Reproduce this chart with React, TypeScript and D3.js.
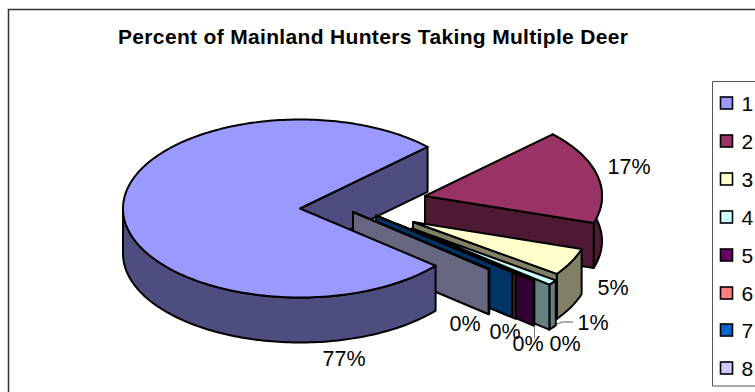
import React from "react";
import * as d3 from "d3";

// Share of hunters per number of deer taken
const categories = ["1", "2", "3", "4", "5", "6", "7", "8"];
const shares = [76.7, 17.1, 5.0, 0.95, 0.1, 0.02, 0.03, 0.1];
const shareLabels = ["77%", "17%", "5%", "1%", "0%", "0%", "0%", "0%"];
const topColors = ["#9999FF", "#993366", "#FFFFCC", "#CCFFFF", "#660066", "#FF8080", "#0066CC", "#CCCCFF"];
const wallColors = ["#4D4D80", "#4D1933", "#808066", "#668080", "#330033", "#804040", "#003366", "#666680"];

// Layout of the tilted pie
const W = 755;
const H = 392;
const CX = 300;
const CY = 208.5;
const RX = 177;
const RY = 89;
const DEPTH = 45;
const FIRST_ANGLE = (130 * Math.PI) / 180;

// How far each slice is pulled out of the pie, in pixels
const pullX = [0, 125, 113, 112, 97, 79, 76, 53];
const pullY = [0, -12.5, 13.5, 20, 15.5, 8.5, 7, 3.5];

const labelX = [344, 629, 613, 593, 465, 505, 528, 565];
const labelY = [366, 174, 295, 329.5, 331, 338.5, 350.5, 350.5];
const legendRowY = [103, 141, 179, 217, 255, 293, 330, 368];

const xScale = d3.scaleLinear().domain([-1, 1]).range([-RX, RX]);
const yScale = d3.scaleLinear().domain([-1, 1]).range([RY, -RY]);

type Pt = [number, number];

// Clockwise angle from twelve o'clock, projected onto the tilted disc
const rimPoint = (a: number, i: number, drop = 0): Pt => [
  CX + pullX[i] + xScale(Math.sin(a)),
  CY + pullY[i] + yScale(Math.cos(a)) + drop,
];
const apex = (i: number, drop = 0): Pt => [CX + pullX[i], CY + pullY[i] + drop];

const arcPoints = (a0: number, a1: number, i: number, drop = 0): Pt[] => {
  const n = Math.max(2, Math.ceil(Math.abs(a1 - a0) / 0.02));
  return d3.range(n + 1).map((k) => rimPoint(a0 + ((a1 - a0) * k) / n, i, drop));
};

const closedPath = d3.line<Pt>().curve(d3.curveLinearClosed);

const arcs = d3
  .pie<number>()
  .sort(null)
  .startAngle(FIRST_ANGLE)
  .endAngle(FIRST_ANGLE + 2 * Math.PI)(shares);

const HALF = Math.PI / 2;
const stroke = { stroke: "#000", strokeWidth: 2, strokeLinejoin: "round" as const };

function topFace(i: number) {
  const { startAngle: a0, endAngle: a1 } = arcs[i];
  return <path d={closedPath([apex(i), ...arcPoints(a0, a1, i)])!} fill={topColors[i]} {...stroke} />;
}

// The outer wall is visible only where the rim faces the viewer
function rimWall(i: number, from: number, to: number) {
  const top = arcPoints(from, to, i);
  const bottom = arcPoints(to, from, i, DEPTH);
  return <path d={closedPath([...top, ...bottom])!} fill={wallColors[i]} {...stroke} />;
}

function cutWall(i: number, angle: number) {
  const pts: Pt[] = [apex(i), rimPoint(angle, i), rimPoint(angle, i, DEPTH), apex(i, DEPTH)];
  return <path d={closedPath(pts)!} fill={wallColors[i]} {...stroke} />;
}

function PulledSlice({ i }: { i: number }) {
  const { startAngle: a0, endAngle: a1 } = arcs[i];
  const rimFrom = Math.max(a0, HALF);
  return (
    <g>
      {a1 > rimFrom ? rimWall(i, rimFrom, a1) : null}
      {cutWall(i, a1)}
      {topFace(i)}
    </g>
  );
}

export default function App() {
  const main = arcs[0];
  return (
    <svg
      width={W}
      height={H}
      viewBox={`0 0 ${W} ${H}`}
      style={{ position: "fixed", left: 0, top: 0, background: "#fff" }}
      fontFamily="'Liberation Sans', Arial, sans-serif"
    >
      {/* Chart frame, running off the right and bottom of the page */}
      <path d={`M8.5 ${H}V9.5H${W}`} fill="none" stroke="#333" strokeWidth={1.5} />
      <text x={373} y={44} textAnchor="middle" fontSize={21} fontWeight="bold" textLength={510} lengthAdjust="spacing">
        Percent of Mainland Hunters Taking Multiple Deer
      </text>

      {/* Inner cut of the large slice sits behind the pulled slices */}
      {cutWall(0, main.endAngle)}
      {d3.range(1, categories.length).map((i) => (
        <PulledSlice key={i} i={i} />
      ))}
      {rimWall(0, main.startAngle, Math.PI * 1.5)}
      {topFace(0)}

      {/* Leader lines for the two crowded labels */}
      <path d="M555 325L562 322H573" fill="none" stroke="#333" strokeWidth={0.8} />
      <path d="M534.5 325V338" fill="none" stroke="#555" strokeWidth={0.8} />

      {shareLabels.map((t, i) => (
        <text key={i} x={labelX[i]} y={labelY[i]} textAnchor="middle" fontSize={21.5}>
          {t}
        </text>
      ))}

      {/* Legend */}
      <path d={`M${W} 81.5H712.5V386H${W}`} fill="#fff" stroke="#555" strokeWidth={1} />
      {categories.map((c, i) => (
        <g key={c}>
          <rect x={720.5} y={legendRowY[i] - 6} width={12} height={12} fill={topColors[i]} stroke="#000" strokeWidth={1.6} />
          <text x={741.5} y={legendRowY[i] + 7.5} fontSize={21}>
            {c}
          </text>
        </g>
      ))}
    </svg>
  );
}
